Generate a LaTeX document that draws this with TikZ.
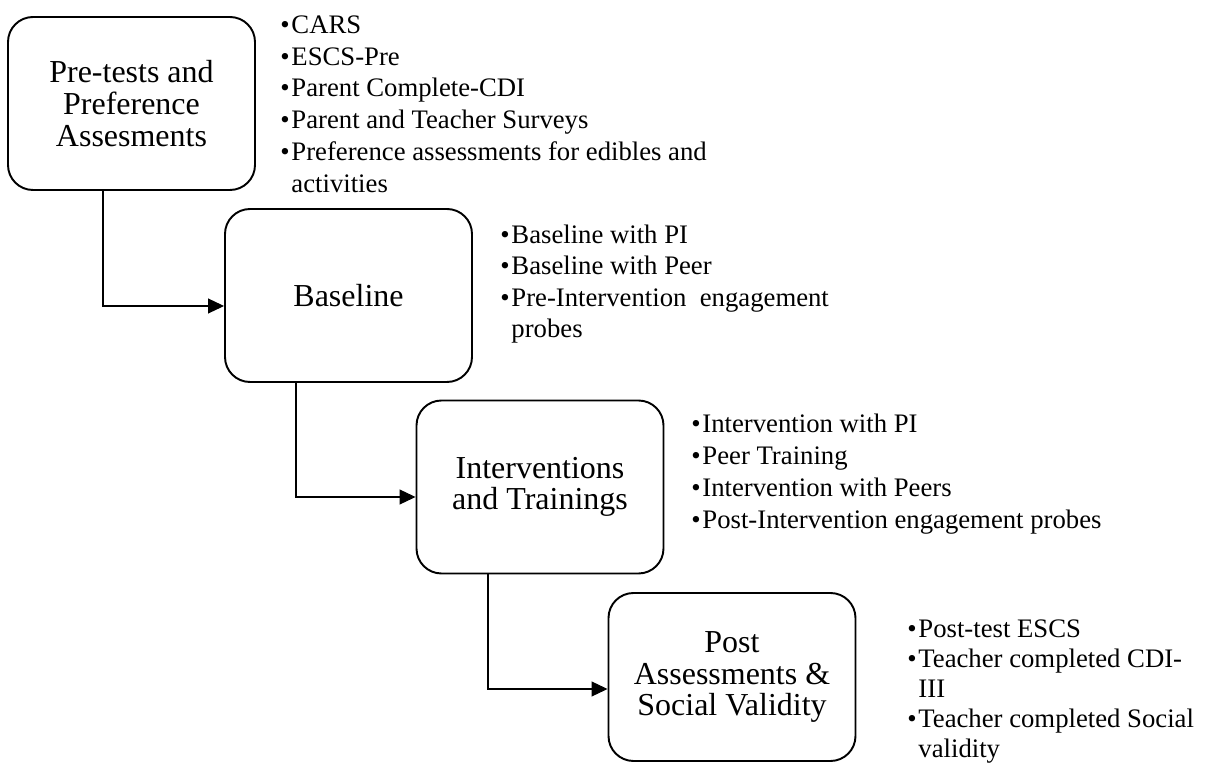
\documentclass[tikz,border=0pt]{standalone}
\usepackage{fontspec}
\setmainfont{Liberation Serif}
\usetikzlibrary{arrows.meta}
\tikzset{stage/.style={draw, line width=1.1pt, rounded corners=0.5cm, minimum width=4.94cm, minimum height=3.46cm, align=center, inner sep=0pt, font=\fontsize{18.2}{18}\selectfont}}
\tikzset{items/.style={anchor=north west, align=left, inner sep=0pt, font=\fontsize{15.2}{18.2}\selectfont}}
\tikzset{flow/.style={-{Triangle[length=0.32cm,width=0.3cm]}, line width=0.6pt}}
\newcommand{\itm}{\textbullet\hspace{1pt}}
\newcommand{\cont}{\phantom{\textbullet}\hspace{1pt}}

\begin{document}
\begin{tikzpicture}
          \useasboundingbox (0,0) rectangle (24.12,-15.28);
          \node[stage] (pre) at (2.63,-2.07) {Pre-tests and\\ Preference\\ Assesments};
          \node[stage] (base) at (6.97,-5.91) {Baseline};
          \node[stage] (train) at (10.80,-9.74) {Interventions\\ and Trainings};
          \node[stage, minimum height=3.36cm] (post) at (14.64,-13.54) {Post\\ Assessments \&\\ Social Validity};
          \node[items] (preitems) at (5.6,-0.30) {\itm CARS\\ \itm ESCS-Pre\\ \itm Parent Complete-CDI\\ \itm Parent and Teacher Surveys\\ \itm Preference assessments for edibles and\\ \cont activities};
          \node[items, font=\fontsize{15.2}{17.7}\selectfont] (baseitems) at (10.0,-4.5) {\itm Baseline with PI\\ \itm Baseline with Peer\\ \itm Pre-Intervention \ engagement\\ \cont probes};
          \node[items] (trainitems) at (13.82,-8.28) {\itm Intervention with PI\\ \itm Peer Training\\ \itm Intervention with Peers\\ \itm Post-Intervention engagement probes};
          \node[items, font=\fontsize{15.2}{17.1}\selectfont] (postitems) at (18.14,-12.38) {\itm Post-test ESCS\\ \itm Teacher completed CDI-\\ \cont III\\ \itm Teacher completed Social\\ \cont validity};
          \draw[flow] ([xshift=-0.57cm]pre.south) |- ([yshift=-0.21cm]base.west);
          \draw[flow] ([xshift=-1.05cm]base.south) |- ([yshift=-0.2cm]train.west);
          \draw[flow] ([xshift=-1.04cm]train.south) |- ([yshift=-0.24cm]post.west);
        \end{tikzpicture}
\end{document}
